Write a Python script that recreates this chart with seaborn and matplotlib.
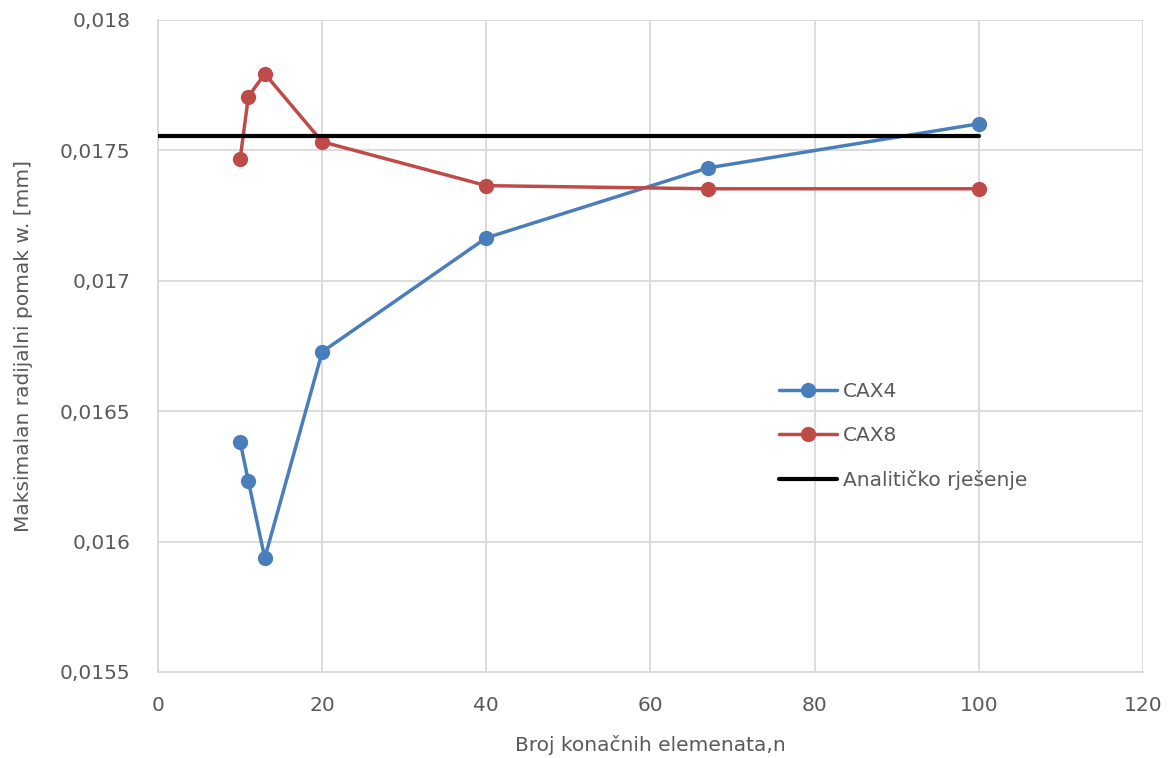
import numpy as np
import pandas as pd
import matplotlib
matplotlib.use('Agg')
import matplotlib.pyplot as plt
from matplotlib.ticker import FuncFormatter
import seaborn as sns

# ── Data ──────────────────────────────────────────────────────────────────────
n_elem   = [10, 11, 13, 20, 40, 67, 100]
cax4     = [0.016382, 0.016232, 0.015937, 0.016727, 0.017164, 0.017432, 0.017601]
cax8     = [0.017467, 0.017705, 0.017793, 0.017532, 0.017364, 0.017352, 0.017352]
anal_x   = [0, 100]
anal_y   = [0.017555, 0.017555]

df = pd.DataFrame({
    'n': n_elem * 2,
    'w': cax4 + cax8,
    'serija': ['CAX4'] * len(n_elem) + ['CAX8'] * len(n_elem),
})

# ── Style ─────────────────────────────────────────────────────────────────────
BLUE  = '#4A7EBB'
RED   = '#BE4B48'
GRID  = '#D9D9D9'
TEXT  = '#595959'
FS    = 14.5

sns.set_style('whitegrid', {'grid.color': GRID, 'axes.edgecolor': GRID})
plt.rcParams['font.family'] = ['DejaVu Sans']

fig = plt.figure(figsize=(11.71, 7.58), dpi=100)
ax = fig.add_axes([0.135, 0.1135, 0.841, 0.8605])

sns.lineplot(data=df, x='n', y='w', hue='serija', palette=[BLUE, RED],
             marker='o', markersize=11, markeredgewidth=0, linewidth=2.5,
             ax=ax, legend=False)
ax.plot(anal_x, anal_y, color='black', linewidth=3, zorder=3)

ax.set_xlim(0, 120)
ax.set_ylim(0.0155, 0.018)
ax.set_xticks(np.arange(0, 121, 20))
ax.set_yticks([0.0155, 0.016, 0.0165, 0.017, 0.0175, 0.018])
ax.yaxis.set_major_formatter(FuncFormatter(lambda v, p: f'{v:.4f}'.rstrip('0').replace('.', ',')))
ax.grid(True, color=GRID, linewidth=1.3)
ax.spines[['top', 'right']].set_visible(False)
ax.spines[['left', 'bottom']].set_color(GRID)
ax.spines[['left', 'bottom']].set_linewidth(1.3)
ax.tick_params(axis='y', labelsize=FS, colors=TEXT, length=0, pad=20)
ax.tick_params(axis='x', labelsize=FS, colors=TEXT, length=0, pad=17)

ax.set_xlabel('Broj konačnih elemenata,n', fontsize=FS, color=TEXT, labelpad=15)
ax.set_ylabel('Maksimalan radijalni pomak w. [mm]', fontsize=FS, color=TEXT, labelpad=19)

handles = [
    plt.Line2D([], [], color=BLUE, linewidth=2.5, marker='o', markersize=11, markeredgewidth=0),
    plt.Line2D([], [], color=RED, linewidth=2.5, marker='o', markersize=11, markeredgewidth=0),
    plt.Line2D([], [], color='black', linewidth=3),
]
leg = ax.legend(handles, ['CAX4', 'CAX8', 'Analitičko rješenje'],
                loc='center left', bbox_to_anchor=(0.612, 0.362),
                frameon=False, fontsize=FS, handlelength=2.9,
                labelspacing=1.25, handletextpad=0.3)
for t in leg.get_texts():
    t.set_color(TEXT)

plt.savefig('out.png', dpi=100)
